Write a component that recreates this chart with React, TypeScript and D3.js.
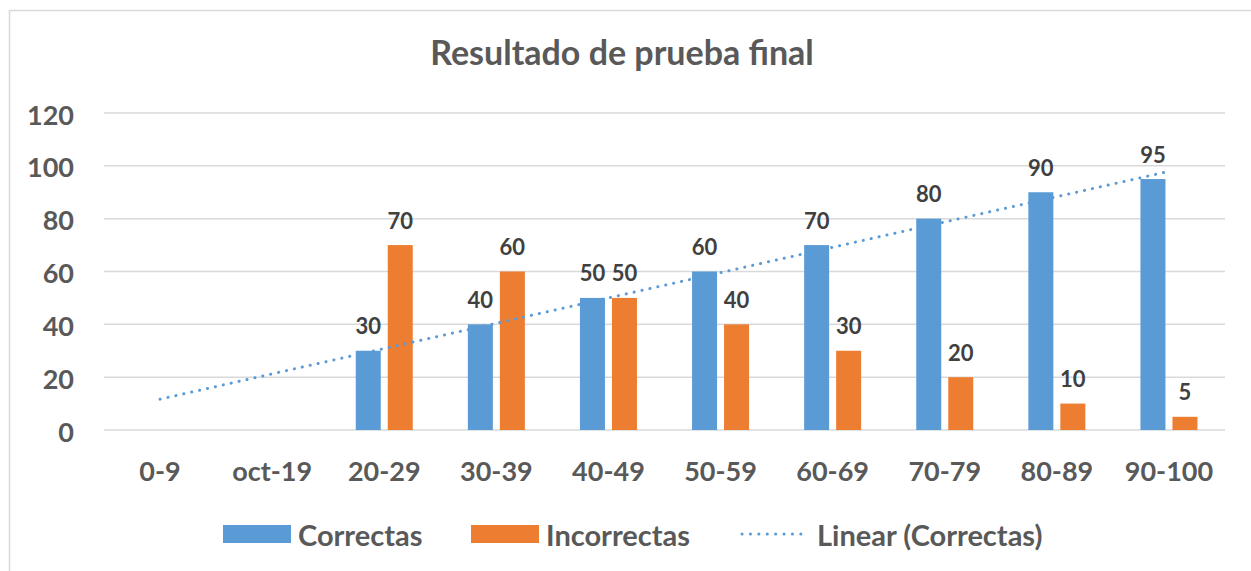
import { useEffect, useRef } from "react";
import * as d3 from "d3";

const categories = ["0-9", "oct-19", "20-29", "30-39", "40-49", "50-59", "60-69", "70-79", "80-89", "90-100"];
const correctas: (number | null)[] = [null, null, 30, 40, 50, 60, 70, 80, 90, 95];
const incorrectas: (number | null)[] = [null, null, 70, 60, 50, 40, 30, 20, 10, 5];
const yTicks = [0, 20, 40, 60, 80, 100, 120];
const title = "Resultado de prueba final";

const BLUE = "#5B9BD5";
const ORANGE = "#ED7D31";
const TEXT = "#595959";
const GRID = "#D9D9D9";
const FONT = "Lato, 'Open Sans', sans-serif";

export default function App() {
  const ref = useRef<SVGSVGElement | null>(null);

  useEffect(() => {
    if (!ref.current) return;
    const width = 1251;
    const height = 571;
    const plot = { left: 104, right: 1225, top: 113, bottom: 430 };

    const svg = d3.select(ref.current);
    svg.selectAll("*").remove();

    svg.append("rect").attr("width", width).attr("height", height).attr("fill", "#fff");
    // chart border (only top and left visible in the crop)
    svg.append("rect")
      .attr("x", 9.5).attr("y", 10.5)
      .attr("width", width + 20).attr("height", height + 20)
      .attr("fill", "none").attr("stroke", GRID).attr("stroke-width", 1.5);

    const x = d3.scaleBand<string>().domain(categories).range([plot.left, plot.right]);
    const y = d3.scaleLinear().domain([0, 120]).range([plot.bottom, plot.top]);

    // title
    svg.append("text")
      .attr("x", 622).attr("y", 65)
      .attr("text-anchor", "middle")
      .style("font-family", FONT).style("font-weight", "bold").style("font-size", "34px")
      .style("fill", TEXT)
      .text(title);

    // gridlines + y labels
    yTicks.forEach(t => {
      svg.append("line")
        .attr("x1", plot.left).attr("x2", plot.right)
        .attr("y1", y(t)).attr("y2", y(t))
        .attr("stroke", GRID).attr("stroke-width", 1.5);
      svg.append("text")
        .attr("x", 74).attr("y", y(t) + 1)
        .attr("text-anchor", "end").attr("dominant-baseline", "central")
        .style("font-family", FONT).style("font-weight", "bold").style("font-size", "27px")
        .style("fill", TEXT)
        .text(t);
    });

    // x labels
    categories.forEach(c => {
      svg.append("text")
        .attr("x", (x(c) as number) + x.bandwidth() / 2).attr("y", 470)
        .attr("text-anchor", "middle").attr("dominant-baseline", "central")
        .style("font-family", FONT).style("font-weight", "bold").style("font-size", "27px")
        .style("fill", TEXT)
        .text(c);
    });

    const barW = 25;
    const offset = 16;
    const series = [
      { values: correctas, color: BLUE, dx: -offset },
      { values: incorrectas, color: ORANGE, dx: offset },
    ];

    series.forEach(s => {
      s.values.forEach((v, i) => {
        if (v === null) return;
        const cx = (x(categories[i]) as number) + x.bandwidth() / 2 + s.dx;
        svg.append("rect")
          .attr("x", cx - barW / 2).attr("y", y(v))
          .attr("width", barW).attr("height", y(0) - y(v))
          .attr("fill", s.color);
        svg.append("text")
          .attr("x", cx).attr("y", y(v) - 25)
          .attr("text-anchor", "middle").attr("dominant-baseline", "central")
          .style("font-family", FONT).style("font-weight", "bold").style("font-size", "22px")
          .style("fill", "#404040")
          .text(v);
      });
    });

    // linear trendline for Correctas (least squares over non-empty points, x = 1..n)
    const pts = correctas
      .map((v, i) => ({ xi: i + 1, v }))
      .filter(p => p.v !== null) as { xi: number; v: number }[];
    const mx = d3.mean(pts, p => p.xi) as number;
    const my = d3.mean(pts, p => p.v) as number;
    const slope = (d3.sum(pts, p => (p.xi - mx) * (p.v - my))) / (d3.sum(pts, p => (p.xi - mx) ** 2));
    const intercept = my - slope * mx;
    const cxOf = (i: number) => (x(categories[i]) as number) + x.bandwidth() / 2;
    const trend = [0, categories.length - 1].map(i => [cxOf(i), y(intercept + slope * (i + 1))] as [number, number]);

    svg.append("path")
      .attr("d", d3.line()(trend))
      .attr("fill", "none").attr("stroke", BLUE).attr("stroke-width", 3)
      .attr("stroke-linecap", "round").attr("stroke-dasharray", "0.1 8");

    // legend
    const ly = 534;
    const legendFont = "29px";
    svg.append("rect").attr("x", 223).attr("y", ly - 9).attr("width", 68).attr("height", 18).attr("fill", BLUE);
    svg.append("text").attr("x", 298).attr("y", ly)
      .attr("dominant-baseline", "central")
      .style("font-family", FONT).style("font-weight", "bold").style("font-size", legendFont).style("fill", TEXT)
      .text("Correctas");
    svg.append("rect").attr("x", 471).attr("y", ly - 9).attr("width", 68).attr("height", 18).attr("fill", ORANGE);
    svg.append("text").attr("x", 546).attr("y", ly)
      .attr("dominant-baseline", "central")
      .style("font-family", FONT).style("font-weight", "bold").style("font-size", legendFont).style("fill", TEXT)
      .text("Incorrectas");
    svg.append("line")
      .attr("x1", 742).attr("x2", 809).attr("y1", ly).attr("y2", ly)
      .attr("stroke", BLUE).attr("stroke-width", 3)
      .attr("stroke-linecap", "round").attr("stroke-dasharray", "0.1 8.3");
    svg.append("text").attr("x", 817).attr("y", ly)
      .attr("dominant-baseline", "central")
      .style("font-family", FONT).style("font-weight", "bold").style("font-size", legendFont).style("fill", TEXT)
      .text("Linear (Correctas)");
  }, []);

  return (
    <svg
      ref={ref}
      width={1251}
      height={571}
      style={{ position: "absolute", left: 0, top: 0, display: "block" }}
    />
  );
}
